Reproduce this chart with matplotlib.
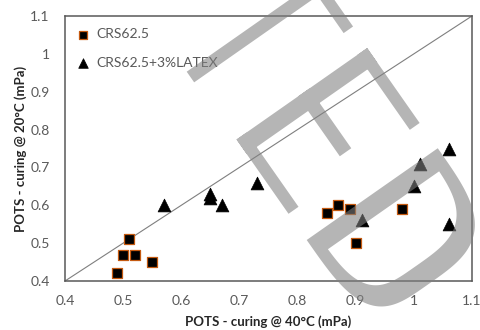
import numpy as np
import matplotlib
matplotlib.use('Agg')
import matplotlib.pyplot as plt
from matplotlib.path import Path
from matplotlib.patches import PathPatch
from matplotlib.transforms import IdentityTransform
from matplotlib.ticker import FuncFormatter

# DATA
crs_x = [0.49, 0.50, 0.51, 0.52, 0.55, 0.85, 0.87, 0.89, 0.90, 0.98]
crs_y = [0.42, 0.47, 0.51, 0.47, 0.45, 0.58, 0.60, 0.59, 0.50, 0.59]
latex_x = [0.57, 0.65, 0.65, 0.67, 0.73, 0.91, 1.00, 1.01, 1.06, 1.06]
latex_y = [0.60, 0.63, 0.62, 0.60, 0.66, 0.56, 0.65, 0.71, 0.55, 0.75]
line_x = [0.4, 1.1]
line_y = [0.4, 1.1]
ticks = [0.4, 0.5, 0.6, 0.7, 0.8, 0.9, 1.0, 1.1]

plt.rcParams['font.family'] = ['Lato', 'DejaVu Sans']

W, H = 481, 330
fig = plt.figure(figsize=(W / 100, H / 100), dpi=100)
ax = fig.add_axes([65 / W, 49 / H, 407 / W, 265 / H])

grey = '#595959'
ax.plot(line_x, line_y, color='#7f7f7f', lw=0.8, zorder=1)
ax.scatter(crs_x, crs_y, marker='s', s=62, facecolor='black', edgecolor='#C55A11',
           linewidths=0.9, zorder=3, label='CRS62.5')
ax.scatter(latex_x, latex_y, marker='^', s=85, facecolor='black', edgecolor='black',
           linewidths=0.5, zorder=3, label='CRS62.5+3%LATEX')

ax.set_xlim(0.4, 1.1)
ax.set_ylim(0.4, 1.1)
ax.set_xticks(ticks)
ax.set_yticks(ticks)
fmt = FuncFormatter(lambda v, p: '%g' % round(v, 2))
ax.xaxis.set_major_formatter(fmt)
ax.yaxis.set_major_formatter(fmt)
ax.tick_params(axis='both', length=0, labelsize=10, labelcolor=grey)
ax.tick_params(axis='x', pad=10)
ax.tick_params(axis='y', pad=11)
for sp in ax.spines.values():
    sp.set_color(grey)
    sp.set_linewidth(1.1)

ax.set_xlabel('POTS - curing @ 40°C (mPa)', fontsize=9.5, fontweight='bold', color='#262626', labelpad=6)
ax.set_ylabel('POTS - curing @ 20°C (mPa)', fontsize=9.5, fontweight='bold', color='#262626', labelpad=2)

leg = ax.legend(loc='upper left', bbox_to_anchor=(0.029, 0.954), frameon=False, fontsize=10,
                borderpad=0, borderaxespad=0, handlelength=0.9, handletextpad=0.5,
                labelspacing=1.2, markerscale=0.75)
for t in leg.get_texts():
    t.set_color(grey)

# WATERMARK (grey rotated letters drawn over the plot)
ang = np.radians(35)
U = np.array([np.cos(ang), -np.sin(ang)])
V = np.array([np.sin(ang), np.cos(ang)])


def to_px(origin, pts):
    pts = np.asarray(pts, float)
    xy = np.asarray(origin) + pts[:, 0:1] * U + pts[:, 1:2] * V
    return np.column_stack([xy[:, 0], H - xy[:, 1]])


def orient(p, ccw=True):
    x, y = p[:, 0], p[:, 1]
    a = 0.5 * np.sum(x * np.roll(y, -1) - np.roll(x, -1) * y)
    if (a > 0) != ccw:
        p = p[::-1]
    return p


def rect(u0, u1, v0, v1):
    return [(u0, v0), (u1, v0), (u1, v1), (u0, v1)]


def half_super(uc, al, ar, b, n, num=120):
    th = np.linspace(0, np.pi, num)
    c, s = np.cos(th), np.sin(th)
    u = uc + np.where(c >= 0, ar, al) * np.sign(c) * np.abs(c) ** (2 / n)
    v = b * np.abs(s) ** (2 / n)
    return np.column_stack([u, v])


verts, codes = [], []


def add(p):
    verts.extend(p.tolist())
    verts.append(p[0].tolist())
    codes.extend([Path.MOVETO] + [Path.LINETO] * (len(p) - 1) + [Path.CLOSEPOLY])


# F
fo = (186.7, 71.7)
add(orient(to_px(fo, rect(0, 260, 0, 13))))
add(orient(to_px(fo, rect(150.7, 162.2, 0, 58.4))))
# E
eo = (236.5, 139.5)
add(orient(to_px(eo, rect(0, 159.5, 0, 17.7))))
add(orient(to_px(eo, rect(0, 12.2, 0, 90.7))))
add(orient(to_px(eo, rect(75, 89, 0, 73))))
add(orient(to_px(eo, rect(147.5, 159.5, 0, 91.5))))
# D
do = (306.7, 240)
outer = half_super(72, 72, 88, 106, 3.5)
add(orient(to_px(do, outer)))
inner = half_super(72, 60, 76, 84, 3.5)
inner = inner[inner[:, 1] >= 18.5]
add(orient(to_px(do, inner), ccw=False))

wm = PathPatch(Path(verts, codes), transform=IdentityTransform(), facecolor=(0.5, 0.5, 0.5),
               edgecolor='none', alpha=0.58, zorder=10)
fig.add_artist(wm)

fig.savefig('out.png', dpi=100)
